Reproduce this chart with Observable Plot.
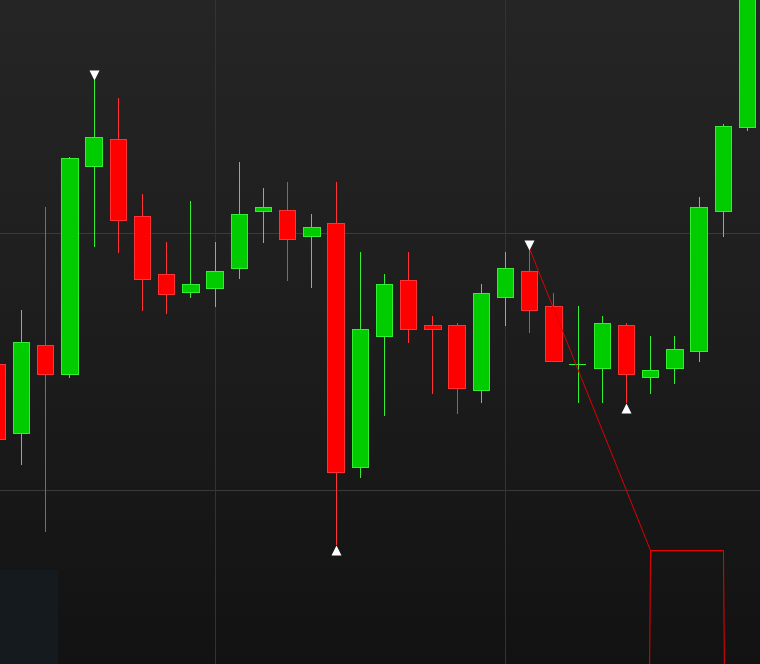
<!DOCTYPE html>
<html>
<head>
<meta charset="utf-8">
<script src="https://cdn.jsdelivr.net/npm/d3@7"></script>
<script src="https://cdn.jsdelivr.net/npm/@observablehq/plot@0.6"></script>
<style>
  html, body { margin: 0; padding: 0; background: #121212; overflow: hidden; }
  #chart svg { display: block; }
</style>
</head>
<body>
<div id="chart"></div>
<script>
// Bar index (position along the time axis)
const bars  = [-1, 0, 1, 2, 3, 4, 5, 6, 7, 8, 9, 10, 11, 12, 13, 14, 15, 16, 17, 18, 19, 20, 21, 22, 23, 24, 25, 26, 27, 28, 29, 30];
const open  = [30.0, 23.1, 31.9, 29.0, 49.8, 52.5, 44.8, 39.0, 37.2, 37.6, 39.6, 45.3, 45.4, 42.8, 44.1, 19.7, 32.8, 38.4, 33.9, 33.9, 27.4, 36.7, 39.3, 35.8, 30.0, 29.6, 33.9, 28.7, 29.6, 31.3, 45.3, 53.7];
const high  = [30.9, 35.4, 45.7, 50.7, 58.4, 56.6, 47.0, 42.2, 46.3, 42.2, 50.2, 47.6, 48.2, 45.0, 48.2, 41.2, 39.0, 41.2, 34.8, 34.1, 38.0, 41.2, 41.4, 37.1, 35.8, 34.8, 34.1, 32.8, 32.8, 46.7, 54.0, 71.0];
const low   = [21.6, 19.9, 13.2, 28.6, 41.7, 41.1, 35.3, 35.0, 36.6, 35.7, 38.5, 42.1, 38.3, 37.6, 11.9, 18.6, 24.8, 32.1, 27.0, 25.0, 26.1, 33.8, 33.1, 30.3, 26.1, 26.1, 26.1, 27.0, 28.0, 30.2, 42.7, 53.3];
const close = [22.5, 32.2, 29.0, 50.6, 52.7, 44.4, 38.5, 37.0, 38.0, 39.3, 45.0, 45.7, 42.5, 43.7, 19.2, 33.5, 38.0, 33.5, 33.5, 27.6, 37.1, 39.6, 35.4, 30.3, 30.0, 34.1, 29.0, 29.4, 31.5, 45.7, 53.8, 70.0];

// Swing markers (bar indices)
const swingHighBars = [3, 21];
const swingLowBars  = [13, 25];

// Grid levels
const gridBars   = [8, 20];
const gridPrices = [43.1, 17.4];

// Drawn trend path
const trendBars   = [21, 26];
const trendPrices = [41.6, 11.4];
const boxBars     = [25.96, 26, 29, 29.06];
const boxPrices   = [-2, 11.4, 11.4, -2];

// Shaded panel at bottom-left
const panelBars   = [-0.868, 1.53];
const panelPrices = [0, 9.4];

const candles = bars.map((b, k) => ({i: b, open: open[k], high: high[k], low: low[k], close: close[k], up: close[k] >= open[k]}));
const bodies = candles.filter(d => Math.abs(d.open - d.close) > 0.05);
const dojis = candles.filter(d => Math.abs(d.open - d.close) <= 0.05);
const highs = swingHighBars.map(b => candles.find(d => d.i === b));
const lows = swingLowBars.map(b => candles.find(d => d.i === b));
const trend = trendBars.map((b, k) => ({x: b, y: trendPrices[k]}));
const box = boxBars.map((b, k) => ({x: b, y: boxPrices[k]}));
const panel = [{x1: panelBars[0], x2: panelBars[1], y1: panelPrices[0], y2: panelPrices[1]}];

const GREEN_FILL = "#00cc00", GREEN_LINE = "#33ee33";
const RED_FILL = "#ff0000", RED_LINE = "#ff3333";

const triDown = {draw(ctx) { ctx.moveTo(-5, -10); ctx.lineTo(5, -10); ctx.lineTo(0, 0); ctx.closePath(); }};
const triUp = {draw(ctx) { ctx.moveTo(-5, 10); ctx.lineTo(5, 10); ctx.lineTo(0, 0); ctx.closePath(); }};

const chart = Plot.plot({
  width: 760,
  height: 664,
  margin: 0,
  style: {background: "linear-gradient(to bottom, #252525 0%, #1e1e1e 45%, #121212 100%)", overflow: "hidden"},
  x: {domain: [-0.868, 30.537], axis: null, round: true},
  y: {domain: [0, 66.4], axis: null, round: true},
  marks: [
    Plot.rect(panel, {x1: "x1", x2: "x2", y1: "y1", y2: "y2", fill: "#151a1e"}),
    Plot.ruleY(gridPrices, {stroke: "#3a3a3a", strokeWidth: 1}),
    Plot.ruleX(gridBars, {stroke: "#333333", strokeWidth: 1}),
    Plot.ruleX(candles, {x: "i", y1: "low", y2: "high", stroke: d => d.up ? GREEN_LINE : RED_LINE, strokeWidth: 1}),
    Plot.rect(bodies, {
      x1: d => d.i - 0.34, x2: d => d.i + 0.34, y1: "open", y2: "close",
      fill: d => d.up ? GREEN_FILL : RED_FILL,
      stroke: d => d.up ? GREEN_LINE : RED_LINE,
      strokeWidth: 1, shapeRendering: "crispEdges"
    }),
    Plot.ruleY(dojis, {x1: d => d.i - 0.36, x2: d => d.i + 0.36, y: "open", stroke: GREEN_LINE, strokeWidth: 1}),
    Plot.line(trend, {x: "x", y: "y", stroke: "#e00000", strokeWidth: 1}),
    Plot.line(box, {x: "x", y: "y", stroke: "#f00000", strokeWidth: 1}),
    Plot.dot(highs, {x: "i", y: "high", symbol: triDown, fill: "white", stroke: "none", r: 5}),
    Plot.dot(lows, {x: "i", y: "low", symbol: triUp, fill: "white", stroke: "none", r: 5})
  ]
});
document.getElementById("chart").append(chart);
</script>
</body>
</html>
